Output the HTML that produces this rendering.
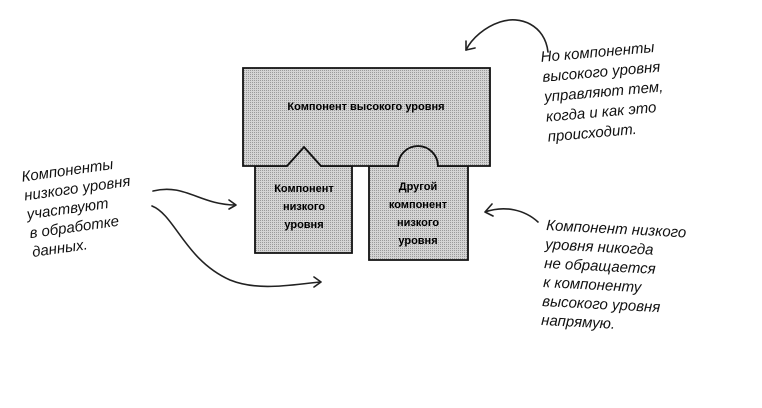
<!DOCTYPE html>
<html><head><meta charset="utf-8"><style>
body{margin:0;background:#fff;}
svg{display:block}
.h{font-family:"Liberation Sans","DejaVu Sans",sans-serif;font-style:italic;font-size:15px;fill:#111;}
.b{font-family:"Liberation Sans",sans-serif;font-weight:bold;font-size:11px;fill:#000;}
</style></head><body>
<svg width="762" height="408" viewBox="0 0 762 408" xmlns="http://www.w3.org/2000/svg">
<defs><pattern id="d" width="2" height="2" patternUnits="userSpaceOnUse"><rect width="2" height="2" fill="#d4d4d4"/><rect width="1" height="1" fill="#9a9a9a"/></pattern></defs>
<g fill="url(#d)" stroke="#111" stroke-width="1.8">
<path d="M255,166 H287 L304,147 L321,166 H352 V253 H255 Z"/>
<path d="M369,166 H398 A20,20 0 0 1 438,166 H468 V260 H369 Z"/>
<path d="M243,68 H490 V166 H438 A20,20 0 0 0 398,166 H321 L304,147 L287,166 H243 Z"/>
</g>
<text class="b" x="366" y="110" text-anchor="middle">Компонент высокого уровня</text>
<text class="b" x="304" y="192" text-anchor="middle">Компонент</text>
<text class="b" x="304" y="210" text-anchor="middle">низкого</text>
<text class="b" x="304" y="228" text-anchor="middle">уровня</text>
<text class="b" x="418" y="190" text-anchor="middle">Другой</text>
<text class="b" x="418" y="208" text-anchor="middle">компонент</text>
<text class="b" x="418" y="226" text-anchor="middle">низкого</text>
<text class="b" x="418" y="244" text-anchor="middle">уровня</text>
<g fill="none" stroke="#222" stroke-width="1.6" stroke-linecap="round">
<path d="M548,52 C545,25 520,15 500,22 C485,27 472,38 466,50"/>
<path d="M466,50 L466,41 M466,50 L475,48"/>
<path d="M538,222 C525,210 505,205 485,212 M485,212 L492,204 M485,212 L493,216"/>
<path d="M153,191 C185,183 200,205 236,205 M236,205 L229,200 M236,205 L229,209"/>
<path d="M152,206 C175,215 185,260 230,280 C260,292 295,284 321,282 M321,282 L314,277 M321,282 L314,287"/>
</g>
<g class="h" transform="rotate(-5 540 60)">
<text x="541" y="62">Но компоненты</text>
<text x="541" y="82">высокого уровня</text>
<text x="541" y="102">управляют тем,</text>
<text x="541" y="122">когда и как это</text>
<text x="541" y="142">происходит.</text>
</g>
<g class="h" transform="rotate(3 545 230)">
<text x="546" y="230">Компонент низкого</text>
<text x="546" y="249">уровня никогда</text>
<text x="546" y="268">не обращается</text>
<text x="546" y="287">к компоненту</text>
<text x="546" y="306">высокого уровня</text>
<text x="546" y="325">напрямую.</text>
</g>
<g class="h" transform="rotate(-8 20 180)">
<text x="22" y="182">Компоненты</text>
<text x="22" y="201">низкого уровня</text>
<text x="22" y="220">участвуют</text>
<text x="22" y="239">в обработке</text>
<text x="22" y="258">данных.</text>
</g>
</svg>
</body></html>
